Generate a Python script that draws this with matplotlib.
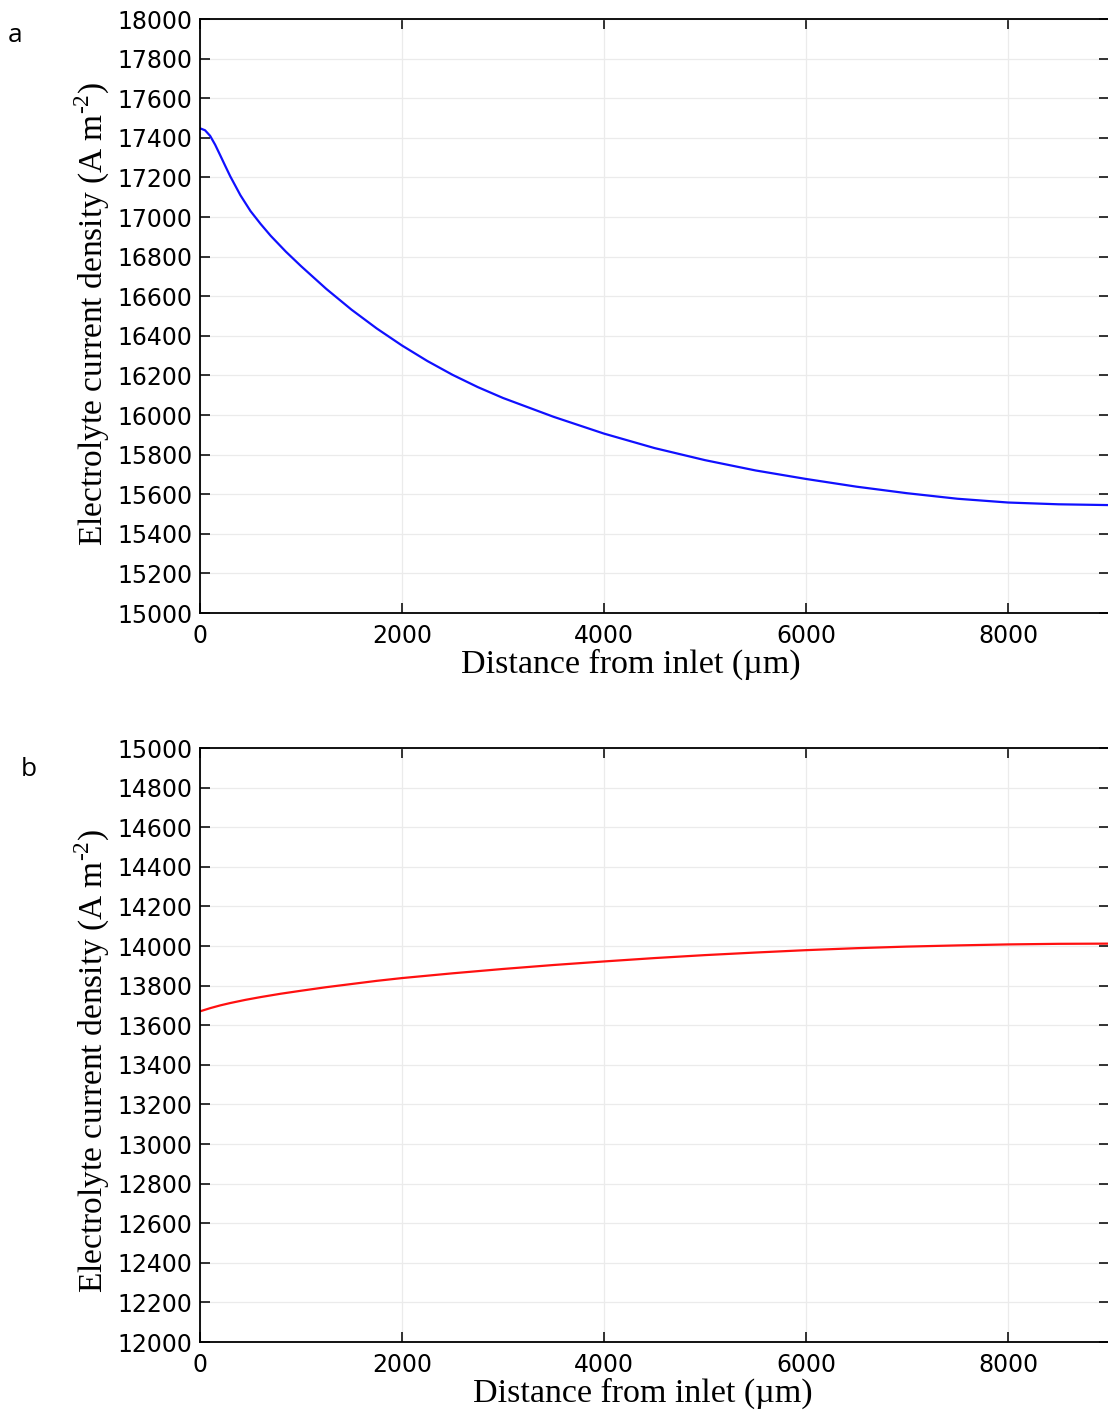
import numpy as np
import matplotlib
matplotlib.use('Agg')
import matplotlib.pyplot as plt

plt.rcParams['mathtext.fontset'] = 'custom'
plt.rcParams['mathtext.rm'] = 'Liberation Serif'

# distance from inlet (um) and current density (A m-2)
x_a = [0, 50, 100, 150, 200, 250, 300, 400, 500, 600, 700, 850, 1000, 1250,
       1500, 1750, 2000, 2250, 2500, 2750, 3000, 3500, 4000, 4500, 5000, 5500,
       6000, 6500, 7000, 7500, 8000, 8500, 9000]
j_a = [17448, 17438, 17410, 17365, 17312, 17258, 17205, 17110, 17030, 16965,
       16905, 16825, 16752, 16637, 16532, 16437, 16351, 16273, 16203, 16141,
       16086, 15991, 15906, 15833, 15772, 15720, 15677, 15638, 15605, 15577,
       15558, 15549, 15545]

x_b = [0, 50, 100, 200, 300, 450, 600, 800, 1000, 1250, 1500, 1750, 2000, 2500,
       3000, 3500, 4000, 4500, 5000, 5500, 6000, 6500, 7000, 7500, 8000, 8500, 9000]
j_b = [13670, 13678, 13686, 13700, 13712, 13728, 13742, 13759, 13774, 13792,
       13808, 13824, 13838, 13862, 13884, 13904, 13922, 13939, 13954, 13967,
       13979, 13989, 13997, 14003, 14008, 14011, 14012]

x_ticks = [0, 2000, 4000, 6000, 8000]
ticks_a = np.arange(15000, 18001, 200)
ticks_b = np.arange(12000, 15001, 200)

W, H = 1108, 1414
fig = plt.figure(figsize=(W / 100, H / 100), dpi=100)

ylab = r'Electrolyte current density (A m$^{\text{-2}}$)'
xlab = 'Distance from inlet (\u00b5m)'


def panel(top_px, xs, ys, col, yticks, xlab_x, ylab_y):
    ax = fig.add_axes([200 / W, 1 - (top_px + 594) / H, 909 / W, 594 / H])
    ax.plot(xs, ys, color=col, lw=1.6)
    ax.set_xlim(0, 9000)
    ax.set_ylim(yticks[0], yticks[-1])
    ax.set_xticks(x_ticks)
    ax.set_yticks(yticks)
    ax.grid(True, color='#ebebeb', lw=0.9)
    ax.set_axisbelow(True)
    ax.tick_params(direction='in', length=7, width=1.3, top=True, right=True,
                   labelsize=17, color='#222222')
    ax.tick_params(axis='x', pad=8)
    ax.tick_params(axis='y', pad=5.5)
    for s in ax.spines.values():
        s.set_linewidth(1.3)
    ax.set_xlabel(xlab, fontsize=24.5, family='Liberation Serif', va='center')
    ax.set_ylabel(ylab, fontsize=24, family='Liberation Serif', va='center')
    ax.xaxis.set_label_coords(xlab_x, -0.087)
    ax.yaxis.set_label_coords(-0.118, ylab_y)
    return ax


panel(19, x_a, j_a, '#1010ff', ticks_a, 0.474, 0.503)
panel(748, x_b, j_b, '#ff1010', ticks_b, 0.487, 0.473)

fig.text(15 / W, 1 - 35 / H, 'a', fontsize=19, family='Open Sans', va='center', ha='center')
fig.text(29 / W, 1 - 770 / H, 'b', fontsize=19, family='Open Sans', va='center', ha='center')

fig.savefig('out.png', dpi=100)
